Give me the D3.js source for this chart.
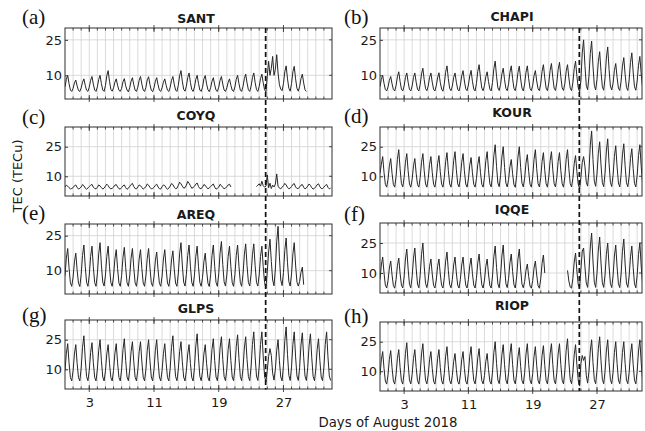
<!DOCTYPE html>
<html>
<head>
<meta charset="utf-8">
<script src="https://cdn.jsdelivr.net/npm/d3@7"></script>
<style>
  body { margin: 0; background: #fff; }
  svg { display: block; }
  .tick text { font-family: "DejaVu Sans", Verdana, sans-serif; font-size: 13px; fill: #1a1a1a; }
</style>
</head>
<body>
<svg id="chart" width="645" height="431"></svg>
<script>
// Vertical TEC over eight GNSS stations, August 2018 (6 samples per day).
const stations = ["SANT", "CHAPI", "COYQ", "KOUR", "AREQ", "IQQE", "GLPS", "RIOP"];
const panelTags = ["(a)", "(b)", "(c)", "(d)", "(e)", "(f)", "(g)", "(h)"];
const yMaxima = [30, 30, 35, 35, 30, 35, 35, 35];
const yTickValues = [10, 25];
const dayTickValues = [3, 11, 19, 27];
const stormDay = 24.8;
const samplesPerDay = 6;
const xLabel = "Days of August 2018";
const yLabel = "TEC (TECu)";

const santTEC = [
  5.1, 8.3, 10, 6.5, 3.8, 3.2,
  4.5, 6.8, 8, 5.5, 3.6, 3.2,
  4.7, 7.1, 8.5, 5.8, 3.7, 3.2,
  5.0, 7.9, 9.5, 6.3, 3.8, 3.2,
  5.1, 8.3, 10, 6.5, 3.8, 3.2,
  5.7, 9.8, 12, 7.5, 4.1, 3.3,
  4.7, 7.1, 8.5, 5.8, 3.7, 3.2,
  4.5, 7.3, 8.6, 5.6, 3.8, 3.0,
  4.8, 7.5, 9, 6, 3.7, 3.2,
  5.0, 7.9, 9.5, 6.3, 3.8, 3.2,
  4.9, 8.1, 9.4, 6.1, 3.7, 3.1,
  4.8, 7.5, 9, 6, 3.7, 3.2,
  4.7, 7.1, 8.5, 5.8, 3.7, 3.2,
  5.0, 7.9, 9.5, 6.3, 3.8, 3.2,
  5.7, 9.8, 12, 7.5, 4.1, 3.3,
  5.4, 9, 11, 7, 4, 3.2,
  5.1, 8.3, 10, 6.5, 3.8, 3.2,
  5.0, 8.5, 9.9, 6.4, 3.9, 3.1,
  4.8, 7.5, 9, 6, 3.7, 3.2,
  5.0, 7.9, 9.5, 6.3, 3.8, 3.2,
  4.7, 7.1, 8.5, 5.8, 3.7, 3.2,
  5.1, 8.3, 10, 6.5, 3.8, 3.2,
  5.3, 8.6, 10.5, 6.8, 3.9, 3.2,
  5.4, 9, 11, 7, 4, 3.2,
  5.3, 8.6, 10.5, 6.8, 3.9, 3.0,
  9.5, 15.9, 10, 13, 18, 10,
  12.5, 18.7, 11, 6, 4.2, 3.5,
  6.5, 11.5, 14, 8.5, 4.5, 3.3,
  6.5, 11.5, 13.8, 8.5, 4.5, 3.3,
  5.3, 8.6, 10.5, 6.8, 3.9, 3.2
];

const chapiTEC = [
  5.2, 8.3, 10, 6.6, 4.0, 3.4,
  5.1, 7.9, 9.5, 6.4, 4.0, 3.4,
  5.7, 9.4, 11.5, 7.4, 4.2, 3.4,
  5.5, 9.1, 11, 7.1, 4.1, 3.4,
  5.5, 9.1, 11, 7.1, 4.1, 3.4,
  6.1, 10.6, 13, 8.1, 4.4, 3.5,
  5.5, 9.1, 11, 7.1, 4.1, 3.4,
  5.6, 8.9, 11.1, 7.0, 4.2, 3.3,
  6.4, 11.3, 14, 8.6, 4.5, 3.5,
  5.5, 9.1, 11, 7.1, 4.1, 3.4,
  5.8, 9.8, 12, 7.6, 4.3, 3.5,
  5.9, 9.7, 12.1, 7.5, 4.2, 3.4,
  6.6, 11.7, 14.5, 8.9, 4.6, 3.5,
  5.7, 9.4, 11.5, 7.4, 4.2, 3.4,
  7.0, 12.8, 16, 9.6, 4.7, 3.6,
  6.1, 10.6, 13, 8.1, 4.4, 3.5,
  6.4, 11.3, 14, 8.6, 4.5, 3.5,
  6.5, 11.2, 13.9, 8.5, 4.6, 3.4,
  6.4, 11.3, 14, 8.6, 4.5, 3.5,
  5.8, 9.8, 12, 7.6, 4.3, 3.5,
  6.6, 11.7, 14.5, 8.9, 4.6, 3.5,
  6.7, 12.1, 15, 9.1, 4.6, 3.6,
  6.9, 12.4, 15.5, 9.4, 4.7, 3.6,
  6.6, 11.7, 14.5, 8.9, 4.6, 3.5,
  7.0, 12.8, 16, 9.6, 4.7, 3.0,
  8.0, 19.5, 25, 14.1, 5.8, 3.9,
  9.6, 19.2, 24.5, 13.9, 5.8, 3.8,
  8.2, 15.8, 20, 11.6, 5.2, 3.7,
  8.8, 17.3, 22, 12.6, 5.5, 3.8,
  6.7, 12.1, 15, 9.1, 4.6, 3.6,
  7.5, 13.9, 17.5, 10.4, 4.9, 3.6,
  8.1, 15.4, 19.5, 11.4, 5.2, 3.7,
  7.6, 14.3, 18, 10.6, 5.0, 3.6
];

const coyqTEC = [
  4.5, 5.5, 5.0, 4.2, 3.6, 3.8,
  4.2, 5.2, 5.6, 4.4, 3.5, 3.9,
  4.6, 5.8, 5.2, 4.0, 3.4, 4.1,
  4.8, 5.4, 5.9, 4.5, 3.8, 3.6,
  4.4, 5.6, 5.1, 4.3, 3.5, 4.0,
  5.0, 6.0, 5.3, 4.1, 3.6, 3.9,
  4.5, 5.5, 5.8, 4.6, 3.7, 3.5,
  4.3, 5.2, 5.6, 4.2, 3.4, 3.9,
  4.9, 5.8, 6.4, 4.8, 3.8, 3.6,
  4.6, 5.6, 5.2, 4.3, 3.5, 4.0,
  4.8, 6.1, 5.5, 4.4, 3.6, 3.8,
  4.4, 5.4, 6.0, 4.6, 3.7, 3.5,
  4.7, 5.6, 5.3, 4.2, 3.4, 4.0,
  5.0, 6.3, 5.8, 4.5, 3.7, 3.9,
  5.3, 7.0, 6.2, 5.0, 4.0, 4.2,
  5.5, 7.4, 6.5, 5.2, 3.9, 4.3,
  4.9, 6.0, 6.6, 4.8, 3.8, 3.7,
  4.6, 5.8, 5.4, 4.4, 3.6, 4.1,
  4.8, 5.5, 6.1, 4.5, 3.5, 3.9,
  4.5, 5.9, 5.3, 4.3, 3.7, 4.0,
  4.7, 5.6, 6.0, 4.6, null, null,
  null, null, null, null, null, null,
  null, null, null, null, null, null,
  null, null, null, null, 4.8, 5.5,
  6.2, 5.0, 7.5, 5.2, 4.5, 5.0,
  10.7, 4.2, 6.5, 3.8, 5.5, 4.6,
  6.0, 11.2, 5.0, 4.0, 3.6, 4.5,
  5.2, 6.4, 5.6, 4.3, 3.7, 4.0,
  4.8, 5.9, 6.3, 4.6, 3.8, 3.8,
  4.6, 5.5, 5.8, 4.4, 3.6, 4.1,
  5.0, 6.1, 5.4, 4.2, 3.5, 3.9,
  4.7, 5.7, 6.2, 4.7, 3.8, 3.7,
  4.5, 5.3, 5.9, 4.4, 3.6, 4.0
];

const kourTEC = [
  11.5, 16, 20, 12, 5.9, 4.5,
  8.5, 15.3, 19, 11.5, 5.8, 4.5,
  9.9, 18.6, 23.5, 13.8, 6.3, 4.6,
  9.3, 17.1, 21.5, 12.8, 6.1, 4.5,
  8.5, 15.3, 19, 11.5, 5.8, 4.5,
  9.3, 17.1, 21.5, 12.8, 6.1, 4.5,
  8.8, 16.0, 20, 12.0, 5.9, 4.5,
  9.0, 16.4, 20.5, 12.3, 6.0, 4.5,
  9.4, 17.5, 22, 13, 6.2, 4.5,
  9.6, 17.9, 22.5, 13.3, 6.2, 4.6,
  9.3, 17.1, 21.5, 12.8, 6.1, 4.5,
  8.7, 15.6, 19.5, 11.8, 5.9, 4.5,
  8.8, 16, 20, 12, 5.9, 4.5,
  9.6, 17.9, 22.5, 13.3, 6.2, 4.6,
  10.6, 20.5, 26, 15, 6.6, 4.7,
  10.3, 19.8, 25, 14.5, 6.5, 4.6,
  8.4, 14.9, 18.5, 11.3, 5.7, 4.4,
  10.3, 19.8, 25, 14.5, 6.5, 4.6,
  9.1, 16.8, 21, 12.5, 6.0, 4.5,
  9.9, 18.6, 23.5, 13.8, 6.3, 4.6,
  9.4, 17.5, 22, 13, 6.2, 4.5,
  9.6, 17.9, 22.5, 13.3, 6.2, 4.6,
  9.4, 17.5, 22, 13, 6.2, 4.5,
  9.9, 18.6, 23.5, 13.8, 6.3, 4.6,
  9.0, 16.4, 20.5, 12.3, 6.0, 3.5,
  9.5, 17, 20, 15, 7, 5,
  12.7, 25.8, 33, 18.5, 7.5, 4.9,
  11.1, 21.6, 27.5, 15.8, 6.8, 4.7,
  11.5, 22.8, 29, 16.5, 7.0, 4.8,
  10.5, 20.1, 25.5, 14.8, 6.6, 4.6,
  10.8, 20.9, 26.5, 15.3, 6.7, 4.7,
  10, 19, 24, 14, 6.4, 4.6,
  10.6, 20.5, 26, 15, 6.6, 4.7
];

const areqTEC = [
  7.8, 15.3, 19.5, 11.2, 4.8, 3.3,
  7.2, 13.8, 17.5, 10.2, 4.6, 3.2,
  8.3, 16.5, 21, 11.9, 5.0, 3.3,
  8.1, 16.1, 20.5, 11.7, 4.9, 3.3,
  8.6, 17.2, 22, 12.4, 5.1, 3.4,
  8.1, 16.1, 20.5, 11.7, 4.9, 3.3,
  7.7, 15.0, 19, 10.9, 4.7, 3.3,
  8.0, 15.7, 20, 11.4, 4.9, 3.3,
  7.8, 15.3, 19.5, 11.2, 4.8, 3.3,
  7.7, 15.0, 19, 10.9, 4.7, 3.3,
  7.8, 15.3, 19.5, 11.2, 4.8, 3.3,
  7.4, 14.2, 18, 10.4, 4.6, 3.3,
  7.7, 15.0, 19, 10.9, 4.7, 3.3,
  7.5, 14.6, 18.5, 10.7, 4.7, 3.3,
  8.6, 17.2, 22, 12.4, 5.1, 3.4,
  8.3, 16.5, 21, 11.9, 5.0, 3.3,
  8.1, 16.1, 20.5, 11.7, 4.9, 3.3,
  7.2, 13.8, 17.5, 10.2, 4.6, 3.2,
  8.3, 16.5, 21, 11.9, 5.0, 3.3,
  8.7, 17.6, 22.5, 12.7, 5.2, 3.4,
  8.1, 16.1, 20.5, 11.7, 4.9, 3.3,
  8.3, 16.5, 21, 11.9, 5.0, 3.3,
  8.4, 16.8, 21.5, 12.2, 5.0, 3.4,
  8.4, 16.8, 21.5, 12.2, 5.0, 3.4,
  8.1, 16.1, 20.5, 11.7, 4.9, 2.5,
  9.5, 18, 23.5, 14, 6, 3.5,
  10.7, 22.5, 29, 15.9, 6.0, 3.6,
  9.2, 18.7, 24, 13.4, 5.3, 3.4,
  8.6, 17.2, 22, 12.4, 5.1, 3.4,
  5.4, 9.3, 11.5, 4.0
];

const iqqeTEC = [
  6.8, 14, 18, 10, 3.9, 2.5,
  6.2, 12.5, 16, 9, 3.7, 2.4,
  6.7, 13.6, 17.5, 9.8, 3.9, 2.5,
  8, 17, 22, 12, 4.4, 2.6,
  8.2, 17.4, 22.5, 12.3, 4.5, 2.6,
  8.9, 19.3, 25, 13.5, 4.8, 2.7,
  6.5, 13.3, 17, 9.5, 3.8, 2.5,
  6.5, 13.3, 17, 9.5, 3.8, 2.5,
  7.6, 15.9, 20.5, 11.3, 4.2, 2.6,
  6.8, 14, 18, 10, 3.9, 2.5,
  6.8, 14, 18, 10, 3.9, 2.5,
  6.7, 13.6, 17.5, 9.8, 3.9, 2.5,
  7.3, 15.1, 19.5, 10.8, 4.1, 2.5,
  6.5, 13.3, 17, 9.5, 3.8, 2.5,
  8.5, 18.1, 23.5, 12.8, 4.6, 2.6,
  8.6, 18.5, 24, 13, 4.6, 2.7,
  7.3, 15.1, 19.5, 10.8, 4.1, 2.5,
  8, 17, 22, 12, 4.4, 2.6,
  5.8, 11.4, 14.5, 8.3, 3.5, 2.4,
  6.2, 12.5, 16, 9, 3.7, 2.4,
  7.1, 14.8, 19, 10, null, null,
  null, null, null, null, null, null,
  null, null, null, null, null, null,
  null, null, 11.3, 6.0, 3.0, 2.4,
  7.4, 15.5, 20, 11, 4.2, 2.5,
  12, 21, 22.5, 13, 5, 2.8,
  10.4, 23, 30, 16, 5.4, 2.8,
  9.8, 21.5, 28, 15, 5.1, 2.8,
  8.9, 19.3, 25, 13.5, 4.8, 2.7,
  8.6, 18.5, 24, 13, 4.6, 2.7,
  9.5, 20.8, 27, 14.5, 5, 2.8,
  8.5, 18.1, 23.5, 12.8, 4.6, 2.6,
  8.9, 19.3, 25, 13.5, 4.8, 2.7
];

const glpsTEC = [
  9.4, 18.1, 23, 13.3, 5.8, 4.1,
  9.2, 17.8, 22.5, 13.0, 5.8, 4.1,
  10.6, 21.1, 27, 15.3, 6.3, 4.2,
  9.5, 18.5, 23.5, 13.5, 5.9, 4.1,
  10.0, 19.6, 25, 14.3, 6.1, 4.1,
  9.2, 17.8, 22.5, 13.0, 5.8, 4.1,
  9.4, 18.1, 23, 13.3, 5.8, 4.1,
  10.1, 20.0, 25.5, 14.5, 6.1, 4.2,
  9.7, 18.9, 24, 13.8, 6.0, 4.1,
  9.7, 18.9, 24, 13.8, 6.0, 4.1,
  10.0, 19.6, 25, 14.3, 6.1, 4.1,
  10.0, 19.6, 25, 14.3, 6.1, 4.1,
  9.4, 18.1, 23, 13.3, 5.8, 4.1,
  10.6, 21.1, 27, 15.3, 6.3, 4.2,
  9.7, 18.9, 24, 13.8, 6.0, 4.1,
  9.2, 17.8, 22.5, 13.0, 5.8, 4.1,
  10.9, 21.9, 28, 15.8, 6.4, 4.2,
  9.2, 17.8, 22.5, 13.0, 5.8, 4.1,
  10.1, 20.0, 25.5, 14.5, 6.1, 4.2,
  10.4, 20.8, 26.5, 15.0, 6.3, 4.2,
  10.1, 20.0, 25.5, 14.5, 6.1, 4.2,
  10.7, 21.5, 27.5, 15.5, 6.4, 4.2,
  10.4, 20.8, 26.5, 15.0, 6.3, 4.2,
  11.2, 22.6, 29, 16.3, 6.6, 4.3,
  11.2, 22.6, 29, 16.3, 6.6, 3.5,
  9.5, 16.5, 20.5, 17.0, 8.0, 4.5,
  10.0, 19.6, 25, 14.3, 6.1, 4.1,
  11.9, 24.5, 31.5, 17.5, 6.9, 4.3,
  11.2, 22.6, 29, 16.3, 6.6, 4.3,
  11.0, 22.3, 28.5, 16.0, 6.5, 4.3,
  10.9, 21.9, 28, 15.8, 6.4, 4.2,
  10.1, 20.0, 25.5, 14.5, 6.1, 4.2,
  11.2, 22.6, 29, 16.3, 6.6, 4.3
];

const riopTEC = [
  8.1, 15.8, 20, 11.5, 5.0, 3.5,
  8.3, 16.1, 20.5, 11.8, 5.1, 3.5,
  8.4, 16.5, 21, 12, 5.2, 3.5,
  9.5, 19.1, 24.5, 13.8, 5.6, 3.6,
  8.4, 16.5, 21, 12, 5.2, 3.5,
  9.3, 18.8, 24, 13.5, 5.5, 3.6,
  8.1, 15.8, 20, 11.5, 5.0, 3.5,
  8.4, 16.5, 21, 12, 5.2, 3.5,
  8.9, 17.6, 22.5, 12.8, 5.3, 3.6,
  7.8, 15, 19, 11, 4.9, 3.5,
  8.1, 15.8, 20, 11.5, 5.0, 3.5,
  8.9, 17.6, 22.5, 12.8, 5.3, 3.6,
  8.6, 16.9, 21.5, 12.3, 5.2, 3.6,
  7.8, 15, 19, 11, 4.9, 3.5,
  9.6, 19.5, 25, 14, 5.6, 3.7,
  9.2, 18.4, 23.5, 13.3, 5.5, 3.6,
  9.3, 18.8, 24, 13.5, 5.5, 3.6,
  8.7, 17.3, 22, 12.5, 5.3, 3.6,
  9.3, 18.8, 24, 13.5, 5.5, 3.6,
  8.9, 17.6, 22.5, 12.8, 5.3, 3.6,
  9, 18, 23, 13, 5.4, 3.6,
  9.3, 18.8, 24, 13.5, 5.5, 3.6,
  9.3, 18.8, 24, 13.5, 5.5, 3.6,
  10.1, 20.6, 26.5, 14.8, 5.8, 3.7,
  9.2, 18.4, 23.5, 13.3, 5.5, 2.5,
  14, 18, 15.5, 17.5, 8, 4,
  9.9, 20.3, 26, 14.5, 5.8, 3.7,
  10.4, 21.4, 27.5, 15.3, 5.9, 3.7,
  9.9, 20.3, 26, 14.5, 5.8, 3.7,
  9.6, 19.5, 25, 14, 5.6, 3.7,
  9.6, 19.5, 25, 14, 5.6, 3.7,
  9.3, 18.8, 24, 13.5, 5.5, 3.6,
  9.9, 20.3, 26, 14.5, 5.8, 3.7
];

const tecSeries = [santTEC, chapiTEC, coyqTEC, kourTEC, areqTEC, iqqeTEC, glpsTEC, riopTEC];

// Panel frames (pixels) and the day span each column shows
const columns = [
  { x: 65, w: 267, dayMax: 33, titleX: 196, tagX: 22 },
  { x: 380, w: 262, dayMax: 32.6, titleX: 512, tagX: 344 }
];
const panelRows = [
  { y: 28, h: 71, titleY: 22.5, tagY: 24 },
  { y: 28, h: 71, titleY: 21, tagY: 24 },
  { y: 127, h: 69, titleY: 120, tagY: 124 },
  { y: 127, h: 69, titleY: 117, tagY: 123 },
  { y: 224, h: 70, titleY: 219, tagY: 220 },
  { y: 223, h: 70, titleY: 213.5, tagY: 221 },
  { y: 320, h: 69, titleY: 312.5, tagY: 322 },
  { y: 322, h: 69, titleY: 310, tagY: 323 }
];

const svg = d3.select("#chart");
const ink = "#1a1a1a";
const sans = '"DejaVu Sans", Verdana, sans-serif';

const xScales = [];

stations.forEach((name, i) => {
  const col = columns[i % 2];
  const row = panelRows[i];
  const x = d3.scaleLinear().domain([0, col.dayMax]).range([col.x, col.x + col.w]);
  const y = d3.scaleLinear().domain([0, yMaxima[i]]).range([row.y + row.h, row.y]);
  if (i < 2) xScales.push(x);

  const g = svg.append("g");
  const top = row.y, bottom = row.y + row.h, left = col.x, right = col.x + col.w;

  // daily grid
  const days = d3.range(1, Math.ceil(col.dayMax));
  g.append("g").selectAll("line").data(days).join("line")
    .attr("x1", d => x(d)).attr("x2", d => x(d))
    .attr("y1", top).attr("y2", bottom)
    .attr("stroke", "#d2d2d2").attr("stroke-width", 0.8);
  g.append("g").selectAll("line").data(yTickValues).join("line")
    .attr("x1", left).attr("x2", right)
    .attr("y1", d => y(d)).attr("y2", d => y(d))
    .attr("stroke", "#d2d2d2").attr("stroke-width", 0.8);

  // trace
  const clipId = "clip" + i;
  svg.append("clipPath").attr("id", clipId).append("rect")
    .attr("x", left).attr("y", top).attr("width", col.w).attr("height", row.h);
  const line = d3.line()
    .defined(v => v != null)
    .x((v, k) => x(k / samplesPerDay))
    .y(v => y(v));
  g.append("path")
    .datum(tecSeries[i])
    .attr("clip-path", `url(#${clipId})`)
    .attr("fill", "none")
    .attr("stroke", "#262626")
    .attr("stroke-width", 1)
    .attr("stroke-linejoin", "round")
    .attr("d", line);

  // minor day ticks on top and bottom edges
  const minor = g.append("g").attr("stroke", "#3a3a3a").attr("stroke-width", 0.9);
  minor.selectAll(".tb").data(days).join("line")
    .attr("x1", d => x(d)).attr("x2", d => x(d))
    .attr("y1", bottom).attr("y2", bottom - 2.5);
  minor.selectAll(".tt").data(days).join("line")
    .attr("x1", d => x(d)).attr("x2", d => x(d))
    .attr("y1", top).attr("y2", top + 2.5);
  // right-edge value ticks
  minor.selectAll(".tr").data(yTickValues).join("line")
    .attr("x1", right).attr("x2", right - 3)
    .attr("y1", d => y(d)).attr("y2", d => y(d));

  // major day ticks crossing top and bottom edges
  const major = g.append("g").attr("stroke", "#3a3a3a").attr("stroke-width", 0.9);
  major.selectAll(".mb").data(dayTickValues).join("line")
    .attr("x1", d => x(d)).attr("x2", d => x(d))
    .attr("y1", bottom - 4).attr("y2", bottom + 3);
  major.selectAll(".mt").data(dayTickValues).join("line")
    .attr("x1", d => x(d)).attr("x2", d => x(d))
    .attr("y1", top - 3).attr("y2", top + 4);

  // y axis labels
  const yAxis = g.append("g").attr("transform", `translate(${left},0)`)
    .call(d3.axisLeft(y).tickValues(yTickValues).tickSize(-3).tickPadding(3));
  yAxis.select(".domain").remove();
  yAxis.selectAll(".tick line").attr("stroke", "#3a3a3a");

  // day labels only under the bottom row
  if (i >= 6) {
    const xAxis = g.append("g").attr("transform", `translate(0,${bottom})`)
      .call(d3.axisBottom(x).tickValues(dayTickValues).tickSize(0).tickPadding(9));
    xAxis.select(".domain").remove();
  }

  // frame
  g.append("rect")
    .attr("x", left).attr("y", top).attr("width", col.w).attr("height", row.h)
    .attr("fill", "none").attr("stroke", "#2e2e2e").attr("stroke-width", 1);

  // station title and panel tag
  svg.append("text")
    .attr("x", col.titleX).attr("y", row.titleY)
    .attr("text-anchor", "middle")
    .attr("font-family", sans).attr("font-weight", "bold").attr("font-size", 12.5)
    .attr("fill", ink).text(name);
  svg.append("text")
    .attr("x", col.tagX).attr("y", row.tagY)
    .attr("font-family", '"Liberation Serif", "Times New Roman", serif')
    .attr("font-size", 21).attr("fill", "#111").text(panelTags[i]);
});

// storm onset marker through each column
const stormSpans = [[28, 389.5], [28, 391]];
xScales.forEach((x, c) => {
  svg.append("line")
    .attr("x1", x(stormDay)).attr("x2", x(stormDay))
    .attr("y1", stormSpans[c][0]).attr("y2", stormSpans[c][1])
    .attr("stroke", "#111").attr("stroke-width", 1.7)
    .attr("stroke-dasharray", "5,3");
});

// axis titles
svg.append("text")
  .attr("transform", "translate(21.5,176) rotate(-90)")
  .attr("text-anchor", "middle")
  .attr("font-family", sans).attr("font-size", 13).attr("fill", ink)
  .text(yLabel);
svg.append("text")
  .attr("x", 388).attr("y", 427)
  .attr("text-anchor", "middle")
  .attr("font-family", sans).attr("font-size", 13.3).attr("fill", ink)
  .text(xLabel);
</script>
</body>
</html>
